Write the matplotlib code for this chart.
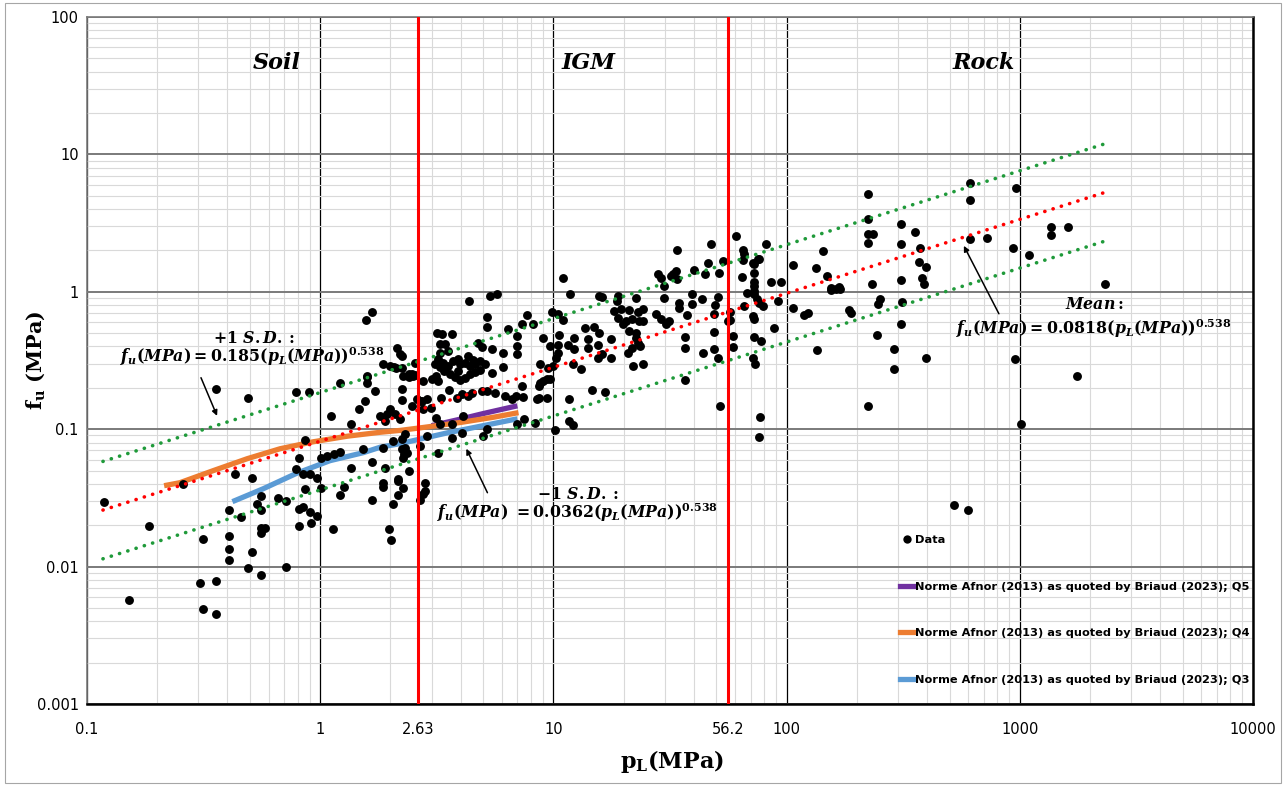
import matplotlib
matplotlib.use("Agg")
import matplotlib.pyplot as plt
from matplotlib.lines import Line2D
from matplotlib.patches import Rectangle
import numpy as np

# Pontos medidos (p_L, f_u) em MPa, separados por zona
soil_pts = [
    (0.118, 0.0297), (0.185, 0.0199), (0.151, 0.00575), (0.358, 0.197), (0.49, 0.169),
    (0.258, 0.040), (0.315, 0.016), (0.407, 0.026), (0.407, 0.0168), (0.407, 0.0135),
    (0.407, 0.0112), (0.305, 0.00765), (0.358, 0.0079), (0.315, 0.00495), (0.358, 0.00455),
    (0.458, 0.0231), (0.51, 0.01285), (0.49, 0.0098), (0.558, 0.00875), (0.558, 0.0328),
    (0.537, 0.0287), (0.558, 0.026), (0.558, 0.0192), (0.58, 0.0191), (0.558, 0.0177),
    (0.432, 0.0475), (0.51, 0.0444), (0.66, 0.0318), (0.715, 0.0302), (0.715, 0.010),
    (0.789, 0.0516), (0.813, 0.062), (0.863, 0.084), (0.863, 0.0369), (0.845, 0.0475),
    (0.906, 0.0475), (0.97, 0.0444), (0.813, 0.0264), (0.845, 0.0273), (0.906, 0.0251),
    (0.97, 0.0235), (0.813, 0.0199), (0.914, 0.0209), (0.789, 0.1875), (0.897, 0.1875),
    (1.01, 0.062), (1.07, 0.064), (1.01, 0.0376), (1.13, 0.0189), (1.11, 0.125),
    (1.22, 0.218), (1.35, 0.11), (1.22, 0.0686), (1.15, 0.0664), (1.26, 0.0382),
    (1.22, 0.0334), (1.36, 0.0525), (1.47, 0.141), (1.56, 0.161), (1.59, 0.241),
    (1.72, 0.19), (1.53, 0.072), (1.67, 0.058), (1.67, 0.0307), (1.86, 0.0733),
    (1.86, 0.0408), (1.86, 0.0382), (1.98, 0.0189), (2.02, 0.0157), (2.06, 0.0825),
    (2.16, 0.0422), (2.27, 0.0376), (2.16, 0.0334), (2.06, 0.0287), (2.25, 0.072),
    (2.29, 0.0664), (2.39, 0.0499), (2.69, 0.0307), (2.69, 0.0759), (2.0, 0.141),
    (2.1, 0.13), (2.2, 0.119), (1.9, 0.115), (2.25, 0.197), (2.25, 0.164),
    (2.08, 0.285), (2.25, 0.28), (2.48, 0.253), (2.48, 0.148), (2.69, 0.161),
    (1.57, 0.626), (1.67, 0.716), (1.59, 0.245), (1.59, 0.218), (2.2, 0.354),
    (2.25, 0.342), (2.12, 0.28), (2.27, 0.245), (2.51, 0.245), (2.39, 0.253),
    (2.56, 0.305), (1.94, 0.13), (1.81, 0.125), (2.61, 0.167), (2.32, 0.0927),
    (2.25, 0.0853), (2.32, 0.0733), (2.36, 0.0675), (2.27, 0.062), (1.9, 0.0525),
    (2.16, 0.0437), (2.14, 0.392), (2.4, 0.24), (2.55, 0.25), (1.85, 0.30), (2.0, 0.29),
]

igm_pts = [
    (4.36, 0.86), (5.37, 0.935), (5.75, 0.966), (5.21, 0.658), (5.21, 0.556),
    (7.73, 0.68), (8.13, 0.585), (7.36, 0.585), (6.41, 0.538), (9.9, 0.716),
    (9.06, 0.463), (7.0, 0.479), (7.0, 0.405), (7.0, 0.354), (6.1, 0.36),
    (6.1, 0.285), (5.47, 0.385), (5.47, 0.258), (4.96, 0.398), (4.76, 0.426),
    (4.32, 0.342), (3.91, 0.326), (3.72, 0.315), (3.54, 0.29), (3.99, 0.299),
    (4.19, 0.305), (4.4, 0.29), (4.63, 0.299), (4.86, 0.315), (5.1, 0.299),
    (4.86, 0.271), (4.63, 0.262), (4.4, 0.253), (4.19, 0.237), (3.99, 0.229),
    (3.8, 0.241), (3.61, 0.253), (3.44, 0.28), (3.27, 0.285), (3.21, 0.326),
    (3.37, 0.305), (3.18, 0.503), (3.34, 0.495), (3.27, 0.419), (3.44, 0.419),
    (3.69, 0.495), (3.27, 0.36), (3.54, 0.372), (3.15, 0.245), (3.21, 0.225),
    (2.77, 0.225), (2.88, 0.167), (2.77, 0.141), (2.97, 0.143), (2.74, 0.161),
    (3.12, 0.121), (3.3, 0.169), (3.58, 0.194), (3.87, 0.169), (4.06, 0.181),
    (4.3, 0.175), (4.49, 0.184), (4.96, 0.19), (5.21, 0.19), (5.64, 0.184),
    (6.22, 0.175), (6.67, 0.167), (6.9, 0.175), (7.4, 0.172), (7.3, 0.207),
    (8.53, 0.167), (8.63, 0.169), (9.42, 0.169), (8.79, 0.218), (9.06, 0.225),
    (9.42, 0.233), (9.7, 0.233), (8.63, 0.207), (10.0, 0.29), (4.11, 0.125),
    (3.69, 0.11), (3.27, 0.11), (2.88, 0.0897), (2.82, 0.0408), (2.82, 0.0357),
    (2.75, 0.034), (3.69, 0.0867), (4.06, 0.0944), (5.01, 0.0897), (5.21, 0.101),
    (3.21, 0.0675), (7.0, 0.11), (7.5, 0.119), (8.37, 0.111), (3.0, 0.23),
    (3.4, 0.265), (3.9, 0.265), (4.5, 0.32), (3.1, 0.30),
    (11.0, 1.26), (11.8, 0.966), (10.5, 0.692), (11.0, 0.626), (10.6, 0.487),
    (9.7, 0.405), (10.5, 0.412), (11.5, 0.412), (10.5, 0.36), (10.3, 0.331),
    (12.2, 0.463), (12.2, 0.385), (13.7, 0.547), (14.9, 0.556), (15.6, 0.503),
    (14.1, 0.455), (14.1, 0.392), (15.5, 0.412), (16.2, 0.354), (17.6, 0.455),
    (15.5, 0.331), (17.6, 0.331), (8.79, 0.299), (9.52, 0.28), (12.1, 0.299),
    (13.1, 0.275), (11.7, 0.167), (14.6, 0.194), (16.7, 0.187), (11.7, 0.115),
    (12.1, 0.108), (10.2, 0.099), (19.0, 0.935), (16.1, 0.92), (18.1, 0.727),
    (19.4, 0.752), (21.0, 0.74), (23.0, 0.716), (24.3, 0.752), (19.0, 0.647),
    (20.4, 0.615), (21.8, 0.637), (23.2, 0.615), (24.3, 0.615), (19.8, 0.585),
    (21.0, 0.52), (22.5, 0.503), (22.5, 0.463), (23.6, 0.405), (22.0, 0.29),
    (24.1, 0.299), (20.8, 0.36), (21.8, 0.392), (23.0, 0.426), (18.8, 0.86),
    (22.5, 0.904), (27.4, 0.692), (28.8, 0.637), (30.3, 0.585), (31.2, 0.615),
    (34.0, 2.02), (28.2, 1.35), (28.8, 1.26), (29.7, 1.1), (29.7, 0.904),
    (31.8, 1.31), (32.7, 1.35), (33.4, 1.42), (34.0, 1.24), (34.4, 0.832),
    (34.4, 0.765), (37.2, 0.68), (36.5, 0.471), (36.5, 0.392), (39.1, 0.966),
    (39.1, 0.818), (43.2, 0.889), (39.9, 1.45), (44.5, 1.35), (47.2, 2.23),
    (46.2, 1.62), (53.1, 1.68), (51.1, 1.37), (50.6, 0.92), (49.1, 0.804),
    (48.6, 0.692), (43.6, 0.36), (48.6, 0.385), (50.6, 0.331), (48.6, 0.512),
    (55.8, 0.615), (51.6, 0.148), (36.5, 0.229), (15.6, 0.935),
]

rock_pts = [
    (58.6, 0.479), (58.6, 0.398), (60.4, 2.55), (81.3, 2.23), (64.7, 2.02),
    (65.3, 1.89), (64.7, 1.71), (71.5, 1.62), (72.1, 1.6), (75.1, 1.74),
    (75.9, 1.74), (72.1, 1.37), (64.1, 1.29), (72.1, 1.18), (72.1, 1.1),
    (72.1, 1.02), (85.3, 1.18), (94.2, 1.18), (67.3, 0.984), (72.1, 0.966),
    (74.3, 0.889), (75.9, 0.832), (78.9, 0.791), (65.3, 0.791), (71.5, 0.669),
    (72.1, 0.637), (91.5, 0.86), (88.0, 0.547), (72.1, 0.471), (77.3, 0.44),
    (56.9, 0.716), (56.9, 0.626), (71.5, 0.331), (73.5, 0.299), (76.6, 0.123),
    (75.9, 0.0881), (106, 1.57), (106, 0.765), (123, 0.703), (119, 0.68),
    (133, 1.5), (143, 1.99), (149, 1.31), (155, 1.07), (162, 1.05),
    (167, 1.09), (155, 1.03), (170, 1.05), (135, 0.379), (185, 0.74),
    (188, 0.703), (223, 5.16), (223, 3.4), (223, 2.64), (234, 2.64),
    (223, 2.27), (232, 1.14), (251, 0.889), (246, 0.818), (243, 0.487),
    (223, 0.148), (308, 3.12), (308, 2.23), (354, 2.73), (308, 1.22),
    (312, 0.846), (308, 0.585), (288, 0.385), (288, 0.275), (372, 2.09),
    (369, 1.65), (395, 1.52), (380, 1.26), (387, 1.14), (395, 0.331),
    (610, 6.21), (610, 4.67), (610, 2.43), (721, 2.47), (962, 5.71),
    (933, 2.09), (1094, 1.86), (1358, 2.97), (1358, 2.6), (1607, 2.97),
    (2316, 1.14), (1757, 0.245), (952, 0.326), (1010, 0.11), (520, 0.028),
    (600, 0.026),
]

# Curvas da norme Afnor
q5_pl = [3.0, 3.87, 5.0, 7.0]
q5_fu = [0.106, 0.117, 0.13, 0.148]
q4_pl = [0.214, 0.25, 0.347, 0.486, 0.673, 0.933, 1.31, 1.81, 2.2, 2.77, 4.0, 5.5, 7.08]
q4_fu = [0.0388, 0.0408, 0.0499, 0.061, 0.0721, 0.081, 0.089, 0.095, 0.098, 0.103, 0.112, 0.122, 0.132]
q3_pl = [0.42, 0.57, 0.797, 1.10, 1.53, 1.81, 2.2, 3.5, 7.0]
q3_fu = [0.0297, 0.0369, 0.048, 0.059, 0.0675, 0.074, 0.0785, 0.094, 0.119]

# Linhas de tendência (extremos): média, +1 DP, -1 DP
trend_pl = [0.117, 2300]
mean_fu = [0.0258, 5.27]
upper_fu = [0.0583, 11.9]
lower_fu = [0.0114, 2.33]

limits = [2.63, 56.2]
zone_names = ["Soil", "IGM", "Rock"]
zone_x = [0.65, 14.1, 700]

x_ticks = [0.1, 1, 2.63, 10, 56.2, 100, 1000, 10000]
x_labels = ["0.1", "1", "2.63", "10", "56.2", "100", "1000", "10000"]
y_ticks = [0.001, 0.01, 0.1, 1, 10, 100]
y_labels = ["0.001", "0.01", "0.1", "1", "10", "100"]

plt.rcParams['mathtext.fontset'] = 'custom'
plt.rcParams['mathtext.rm'] = 'DejaVu Serif:bold'
plt.rcParams['mathtext.bf'] = 'DejaVu Serif:bold'
plt.rcParams['mathtext.it'] = 'DejaVu Serif:italic:bold'

fig = plt.figure(figsize=(12.86, 7.86), dpi=100)
ax = fig.add_axes([0.0677, 0.1043, 0.9067, 0.8741])
ax.set_xscale('log')
ax.set_yscale('log')
ax.set_xlim(0.1, 10000)
ax.set_ylim(0.001, 100)

# Grade
ax.grid(True, which='minor', axis='both', color='#d9d9d9', lw=0.8, zorder=0)
ax.grid(True, which='major', axis='x', color='black', lw=0.9, zorder=0)
ax.grid(True, which='major', axis='y', color='#7a7a7a', lw=1.4, zorder=0)
ax.set_axisbelow(True)
for s in ['left', 'top']:
    ax.spines[s].set_color('#7a7a7a')
    ax.spines[s].set_linewidth(1.2)
for s in ['bottom', 'right']:
    ax.spines[s].set_color('black')
    ax.spines[s].set_linewidth(1.8)

# Curvas Afnor
ax.plot(q5_pl, q5_fu, color='#7030a0', lw=3.8, solid_capstyle='butt', zorder=2)
ax.plot(q4_pl, q4_fu, color='#ed7d31', lw=3.8, solid_capstyle='butt', zorder=2)
ax.plot(q3_pl, q3_fu, color='#5b9bd5', lw=3.8, solid_capstyle='butt', zorder=2)

# Dados
for pts in [soil_pts, igm_pts, rock_pts]:
    px, py = zip(*pts)
    ax.plot(px, py, 'o', color='black', ms=6.4, mew=0, zorder=3)

# Tendências pontilhadas
dots = (0, (0.05, 2.35))
ax.plot(trend_pl, upper_fu, color='#1f9a3a', lw=2.6, ls=dots, dash_capstyle='round', zorder=4)
ax.plot(trend_pl, mean_fu, color='#ff0000', lw=2.6, ls=dots, dash_capstyle='round', zorder=4)
ax.plot(trend_pl, lower_fu, color='#1f9a3a', lw=2.6, ls=dots, dash_capstyle='round', zorder=4)

# Limites das zonas
for v in limits:
    ax.axvline(v, color='#ff0000', lw=2.2, zorder=5)

for name, xz in zip(zone_names, zone_x):
    ax.text(xz, 46, name, ha='center', va='center', fontsize=16,
            family='DejaVu Serif', style='italic', weight='bold')

# Equações e setas
eq_kw = dict(ha='center', va='center', fontsize=11.3, zorder=6)
ax.text(0.521, 0.463, r'$+1\ S.D.:$', **eq_kw)
ax.text(0.511, 0.337, r'$f_u(MPa) = 0.185(p_L(MPa))^{0.538}$', **eq_kw)
ax.text(12.8, 0.034, r'$-1\ S.D.:$', **eq_kw)
ax.text(12.7, 0.0247, r'$f_u(MPa)\ = 0.0362(p_L(MPa))^{0.538}$', **eq_kw)
ax.text(2099, 0.818, r'$Mean:$', **eq_kw)
ax.text(2080, 0.538, r'$f_u(MPa) = 0.0818(p_L(MPa))^{0.538}$', **eq_kw)

arr = dict(arrowstyle='-|>', color='black', lw=1.1, mutation_scale=8, shrinkA=0, shrinkB=0)
ax.annotate('', xy=(0.361, 0.125), xytext=(0.308, 0.237), arrowprops=arr)
ax.annotate('', xy=(4.23, 0.0721), xytext=(5.21, 0.0345), arrowprops=arr)
ax.annotate('', xy=(575, 2.16), xytext=(813, 0.692), arrowprops=arr)

# Eixos
ax.set_xticks(x_ticks)
ax.set_xticklabels(x_labels)
ax.set_yticks(y_ticks)
ax.set_yticklabels(y_labels)
ax.minorticks_on()
ax.tick_params(which='both', length=0)
ax.tick_params(axis='x', pad=13)
ax.tick_params(axis='y', pad=6)
for lab in ax.get_xticklabels() + ax.get_yticklabels():
    lab.set_family(['Liberation Sans Narrow', 'DejaVu Sans'])
    lab.set_fontsize(10.5)
ax.xaxis.set_minor_formatter(plt.NullFormatter())
ax.yaxis.set_minor_formatter(plt.NullFormatter())

ax.set_xlabel(r'$\mathrm{p_L}$(MPa)', fontsize=16, family='DejaVu Serif', weight='bold')
ax.set_ylabel(r'$\mathrm{f_u}$ (MPa)', fontsize=15, family='DejaVu Serif', weight='bold')
ax.xaxis.set_label_coords(0.502, -0.064)
ax.yaxis.set_label_coords(-0.034, 0.5)

# Legenda
handles = [
    Line2D([], [], marker='o', color='black', ls='none', ms=6, mew=0),
    Line2D([], [], color='#7030a0', lw=3.8),
    Line2D([], [], color='#ed7d31', lw=3.8),
    Line2D([], [], color='#5b9bd5', lw=3.8),
]
names = [
    "Data",
    "Norme Afnor (2013) as quoted by Briaud (2023); Q5",
    "Norme Afnor (2013) as quoted by Briaud (2023); Q4",
    "Norme Afnor (2013) as quoted by Briaud (2023); Q3",
]
leg = ax.legend(handles, names, loc='upper left', bbox_to_anchor=(0.693, 0.252),
                frameon=False, handlelength=1.3, handletextpad=0.05, labelspacing=3.2,
                borderaxespad=0, prop={'size': 8.2, 'weight': 'bold', 'family': 'DejaVu Sans'})
leg.set_zorder(7)

fig.patches.append(Rectangle((0.004, 0.004), 0.992, 0.992, transform=fig.transFigure,
                             fill=False, edgecolor='#a6a6a6', lw=0.8))

fig.savefig("out.png", dpi=100)
